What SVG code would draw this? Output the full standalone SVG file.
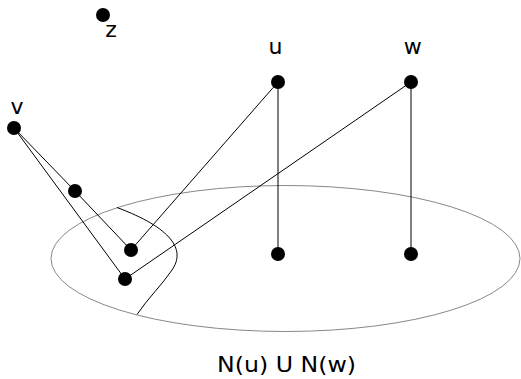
<svg xmlns="http://www.w3.org/2000/svg" width="521" height="379" viewBox="0 0 521 379">
<style>
.n{fill:#000}
.e{stroke:#000;stroke-width:1;fill:none}
.t{font-family:"DejaVu Sans",sans-serif;font-size:22px;fill:#000;text-anchor:middle}
</style>
<rect width="521" height="379" fill="#fff"/>
<ellipse cx="285.5" cy="258.5" rx="234.5" ry="73" fill="none" stroke="#888" stroke-width="1"/>
<path class="e" d="M117,207.5 C172,228 186,250 172,270 C162,285 148,298 137,314.5"/>
<g id="connectors">
<line class="e" x1="14" y1="128" x2="75" y2="191"/>
<line class="e" x1="14" y1="128" x2="125" y2="279"/>
<line class="e" x1="75" y1="191" x2="131" y2="250"/>
<line class="e" x1="278" y1="82" x2="131" y2="250"/>
<line class="e" x1="411" y1="82" x2="125" y2="279"/>
<line class="e" x1="278" y1="82" x2="278" y2="254"/>
<line class="e" x1="411" y1="82" x2="411" y2="254"/>
</g>
<g id="z"><circle class="n" cx="103" cy="15" r="7"/><text class="t" x="111" y="37">z</text></g>
<g id="v"><circle class="n" cx="14" cy="128" r="7"/><text class="t" x="17" y="114">v</text></g>
<g id="p"><circle class="n" cx="75" cy="191" r="7"/></g>
<g id="a"><circle class="n" cx="131" cy="250" r="7"/></g>
<g id="b"><circle class="n" cx="125" cy="279" r="7"/></g>
<g id="u"><circle class="n" cx="278" cy="82" r="7"/><text class="t" x="275.5" y="54">u</text></g>
<g id="w"><circle class="n" cx="411" cy="82" r="7"/><text class="t" x="412.8" y="54">w</text></g>
<g id="u2"><circle class="n" cx="278" cy="254" r="7"/></g>
<g id="w2"><circle class="n" cx="411" cy="254" r="7"/></g>
<text class="t" x="286.5" y="372" style="font-size:21px" textLength="139" lengthAdjust="spacingAndGlyphs">N(u) U N(w)</text>
</svg>
